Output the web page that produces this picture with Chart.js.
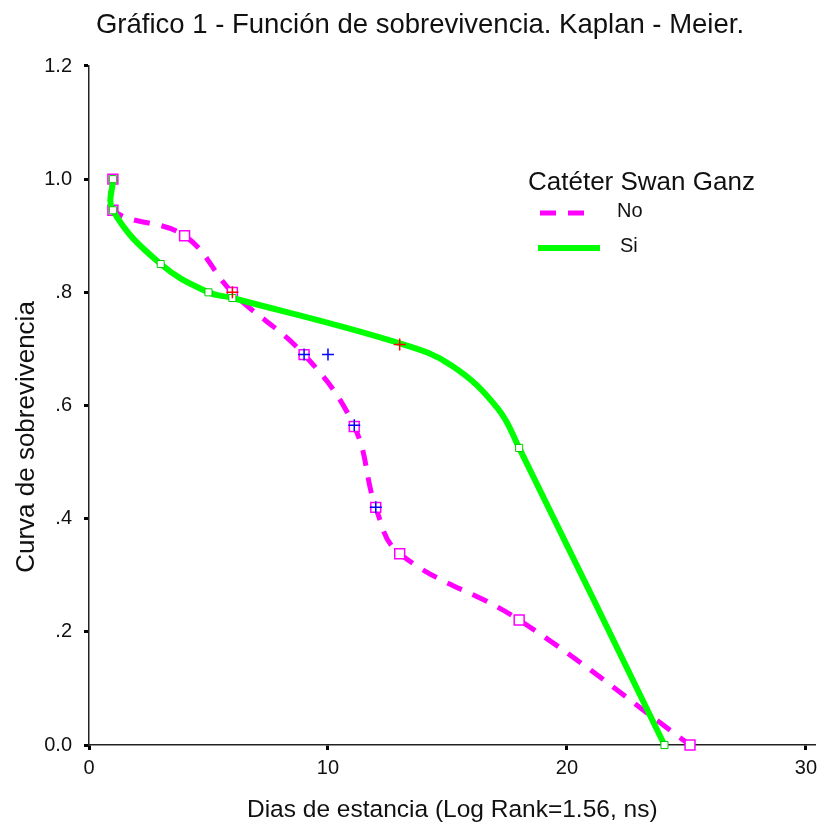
<!DOCTYPE html>
<html>
<head>
<meta charset="utf-8">
<title>Kaplan - Meier</title>
<script src="https://cdn.jsdelivr.net/npm/chart.js@4.4.1/dist/chart.umd.min.js"></script>
<style>
  html, body { margin: 0; padding: 0; background: #fff; }
  #wrap { width: 824px; height: 831px; }
</style>
</head>
<body>
<div id="wrap"><canvas id="kmChart" width="824" height="831"></canvas></div>
<script>
// Catéter Swan Ganz = No
const noDias = [1, 1, 4, 6, 9, 11.1, 12, 13, 18, 25.15];
const noSobrev = [1.0, 0.945, 0.9, 0.8, 0.69, 0.563, 0.42, 0.338, 0.221, 0.0];
const noCensDias = [9, 10, 11.1, 12];
const noCensSobrev = [0.69, 0.69, 0.565, 0.42];

// Catéter Swan Ganz = Si
const siDias = [1, 1, 3, 5, 6, 13, 15.2, 17.1, 18, 24.08];
const siSobrev = [1.0, 0.945, 0.85, 0.8, 0.79, 0.71, 0.67, 0.595, 0.525, 0.0];
const siEvento = [true, true, true, true, true, false, false, false, true, true];
const siCensDias = [6, 13];
const siCensSobrev = [0.8, 0.708];

const yTickLabels = ["0.0", ".2", ".4", ".6", ".8", "1.0", "1.2"];
const xTickValues = [0, 10, 20, 30];

const FONT = '"Liberation Sans", Arial, sans-serif';

function toPoints(xs, ys) {
  return xs.map((x, i) => ({ x: x, y: ys[i] }));
}

// titulo del eje y y leyenda, dibujados como en la figura original
const textosKM = {
  id: 'textosKM',
  afterDraw(chart, args, opts) {
    const ctx = chart.ctx;
    ctx.save();
    ctx.fillStyle = '#111';
    ctx.textBaseline = 'middle';

    ctx.save();
    ctx.translate(opts.yTitle.x, opts.yTitle.y);
    ctx.rotate(-Math.PI / 2);
    ctx.textAlign = 'center';
    ctx.font = '26px ' + FONT;
    ctx.fillText(opts.yTitle.text, 0, 0);
    ctx.restore();

    ctx.font = '26px ' + FONT;
    ctx.fillText(opts.title, opts.x, opts.y);
    opts.rows.forEach((row) => {
      const ds = chart.data.datasets[row.dataset];
      ctx.save();
      ctx.strokeStyle = ds.borderColor;
      ctx.lineWidth = ds.borderWidth;
      ctx.setLineDash(ds.borderDash || []);
      ctx.beginPath();
      ctx.moveTo(row.x0, row.y);
      ctx.lineTo(row.x1, row.y);
      ctx.stroke();
      ctx.restore();
      ctx.font = '20px ' + FONT;
      ctx.fillText(ds.label, row.tx, row.y - 2);
    });
    ctx.restore();
  }
};

const kmChart = new Chart(document.getElementById('kmChart'), {
  type: 'scatter',
  data: {
    datasets: [
      {
        label: 'No',
        data: toPoints(noDias, noSobrev),
        showLine: true,
        tension: 0.4,
        borderColor: '#ff00ff',
        borderWidth: 5,
        borderDash: [16, 12],
        pointStyle: 'rect',
        pointRadius: 7,
        pointBorderWidth: 1.5,
        pointBorderColor: '#ff00ff',
        pointBackgroundColor: '#ffffff',
        clip: false,
        order: 4
      },
      {
        label: 'Si',
        data: toPoints(siDias, siSobrev),
        showLine: true,
        tension: 0.4,
        borderColor: '#00ff00',
        borderWidth: 6,
        pointStyle: 'rect',
        pointRadius: siEvento.map(e => e ? 5 : 0),
        pointBorderWidth: 1,
        pointBorderColor: '#00cc00',
        pointBackgroundColor: '#ffffff',
        clip: false,
        order: 3
      },
      {
        label: 'No censurado',
        data: toPoints(noCensDias, noCensSobrev),
        pointStyle: 'cross',
        pointRadius: 6,
        pointBorderWidth: 1.5,
        pointBorderColor: '#0000ff',
        clip: false,
        order: 2
      },
      {
        label: 'Si censurado',
        data: toPoints(siCensDias, siCensSobrev),
        pointStyle: 'cross',
        pointRadius: 6,
        pointBorderWidth: 1.5,
        pointBorderColor: '#ff0000',
        clip: false,
        order: 1
      }
    ]
  },
  options: {
    responsive: false,
    animation: false,
    events: [],
    layout: { padding: { left: 20, right: 4, top: 0, bottom: 0 } },
    plugins: {
      legend: { display: false },
      tooltip: { enabled: false },
      title: {
        display: true,
        text: 'Gráfico 1 - Función de sobrevivencia. Kaplan - Meier.',
        color: '#111',
        font: { family: FONT, size: 27.5, weight: 'normal' },
        padding: { top: 8.5, bottom: 24.5 }
      },
      textosKM: {
        yTitle: { text: 'Curva de sobrevivencia', x: 27, y: 437 },
        title: 'Catéter Swan Ganz',
        x: 528,
        y: 183,
        rows: [
          { dataset: 0, x0: 540, x1: 590, tx: 617, y: 213 },
          { dataset: 1, x0: 538, x1: 600, tx: 620, y: 248 }
        ]
      }
    },
    scales: {
      x: {
        type: 'linear',
        min: 0,
        max: 30.4,
        afterBuildTicks(scale) {
          scale.ticks = xTickValues.map(v => ({ value: v }));
        },
        afterFit(scale) {
          scale.height = 86;
          scale.paddingLeft = 0;
          scale.paddingRight = 0;
        },
        ticks: {
          color: '#111',
          font: { family: FONT, size: 20 },
          padding: 6,
          maxRotation: 0
        },
        grid: { drawOnChartArea: false, color: '#000', tickLength: 5, tickWidth: 3 },
        border: { display: true, color: '#222', width: 1.5 },
        title: {
          display: true,
          text: 'Dias de estancia (Log Rank=1.56, ns)',
          color: '#111',
          font: { family: FONT, size: 24.5 },
          padding: { top: 4, bottom: 6 }
        }
      },
      y: {
        type: 'linear',
        min: 0,
        max: 1.2,
        afterBuildTicks(scale) {
          scale.ticks = yTickLabels.map((t, i) => ({ value: i * 0.2 }));
        },
        afterFit(scale) {
          scale.width = 69;
        },
        ticks: {
          color: '#111',
          font: { family: FONT, size: 20 },
          padding: 12,
          callback: (v, i) => yTickLabels[i]
        },
        grid: { drawOnChartArea: false, color: '#000', tickLength: 5, tickWidth: 3 },
        border: { display: true, color: '#222', width: 1.5 }
      }
    }
  },
  plugins: [textosKM]
});
</script>
</body>
</html>
